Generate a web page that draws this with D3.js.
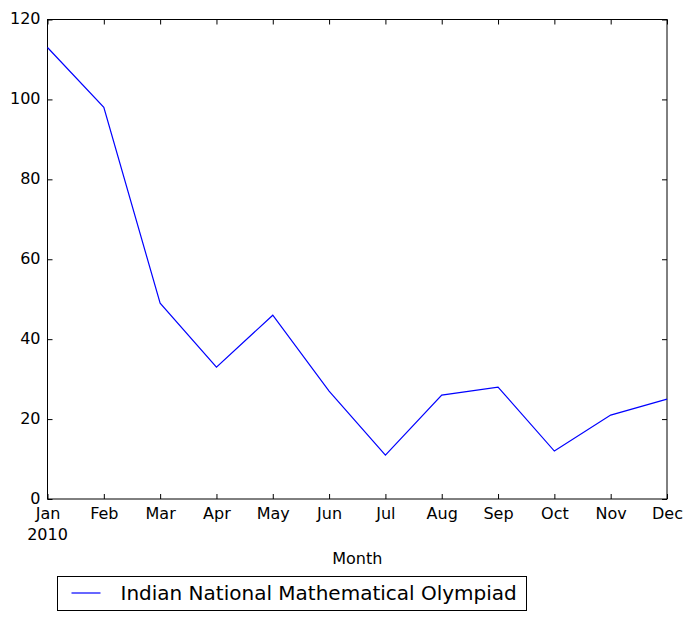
<!DOCTYPE html>
<html>
<head>
<meta charset="utf-8">
<script src="https://cdn.jsdelivr.net/npm/d3@7"></script>
<style>
  body { margin: 0; background: #fff; }
  text { font-family: "DejaVu Sans", sans-serif; }
</style>
</head>
<body>
<svg id="chart"></svg>
<script>
const months = ["Jan", "Feb", "Mar", "Apr", "May", "Jun", "Jul", "Aug", "Sep", "Oct", "Nov", "Dec"];
const counts = [113, 98, 49, 33, 46, 27, 11, 26, 28, 12, 21, 25];
const yTicks = [0, 20, 40, 60, 80, 100, 120];
const seriesName = "Indian National Mathematical Olympiad";

const width = 693, height = 621;
const margin = {top: 19.5, right: 26, bottom: 122, left: 47.5};
const svg = d3.select("#chart").attr("width", width).attr("height", height);

const x = d3.scalePoint().domain(months).range([margin.left, width - margin.right]);
const y = d3.scaleLinear().domain([0, 120]).range([height - margin.bottom, margin.top]);

// axes, ticks pointing inward like the original
const tickLen = 5;
svg.append("g")
  .attr("transform", "translate(0," + (height - margin.bottom) + ")")
  .call(d3.axisBottom(x).tickSizeInner(-tickLen).tickSizeOuter(0).tickPadding(9))
  .call(g => g.select(".domain").remove())
  .call(g => g.selectAll("text").attr("font-size", 16).attr("fill", "#000").attr("font-family", "DejaVu Sans"));

svg.append("g")
  .attr("transform", "translate(0," + margin.top + ")")
  .call(d3.axisTop(x).tickSizeInner(-tickLen).tickSizeOuter(0).tickFormat(""))
  .call(g => g.select(".domain").remove());

svg.append("g")
  .attr("transform", "translate(" + margin.left + ",0)")
  .call(d3.axisLeft(y).tickValues(yTicks).tickSizeInner(-tickLen).tickSizeOuter(0).tickPadding(7))
  .call(g => g.select(".domain").remove())
  .call(g => g.selectAll("text").attr("font-size", 16).attr("fill", "#000")
    .attr("font-family", "DejaVu Sans").attr("dy", "0.26em"));

svg.append("g")
  .attr("transform", "translate(" + (width - margin.right) + ",0)")
  .call(d3.axisRight(y).tickValues(yTicks).tickSizeInner(-tickLen).tickSizeOuter(0).tickFormat(""))
  .call(g => g.select(".domain").remove());

// frame
svg.append("rect")
  .attr("x", margin.left).attr("y", margin.top)
  .attr("width", width - margin.right - margin.left)
  .attr("height", height - margin.bottom - margin.top)
  .attr("fill", "none").attr("stroke", "#000").attr("stroke-width", 1);

// year label under Jan
svg.append("text")
  .attr("x", x("Jan")).attr("y", height - margin.bottom + 41)
  .attr("text-anchor", "middle").attr("font-size", 16).text("2010");

svg.append("text")
  .attr("x", (margin.left + width - margin.right) / 2).attr("y", height - margin.bottom + 65)
  .attr("text-anchor", "middle").attr("font-size", 16).text("Month");

// series line
const line = d3.line().x((d, i) => x(months[i])).y(d => y(d));
svg.append("path")
  .datum(counts)
  .attr("fill", "none").attr("stroke", "#0000ff").attr("stroke-width", 1.2)
  .attr("d", line);

// legend
const legend = svg.append("g").attr("transform", "translate(57.5,576.5)");
legend.append("rect").attr("width", 469).attr("height", 34)
  .attr("fill", "#fff").attr("stroke", "#000").attr("stroke-width", 1);
legend.append("line").attr("x1", 14).attr("x2", 43).attr("y1", 16.5).attr("y2", 16.5)
  .attr("stroke", "#0000ff").attr("stroke-width", 1.2);
legend.append("text").attr("x", 63).attr("y", 23.5).attr("font-size", 20).text(seriesName);
</script>
</body>
</html>
